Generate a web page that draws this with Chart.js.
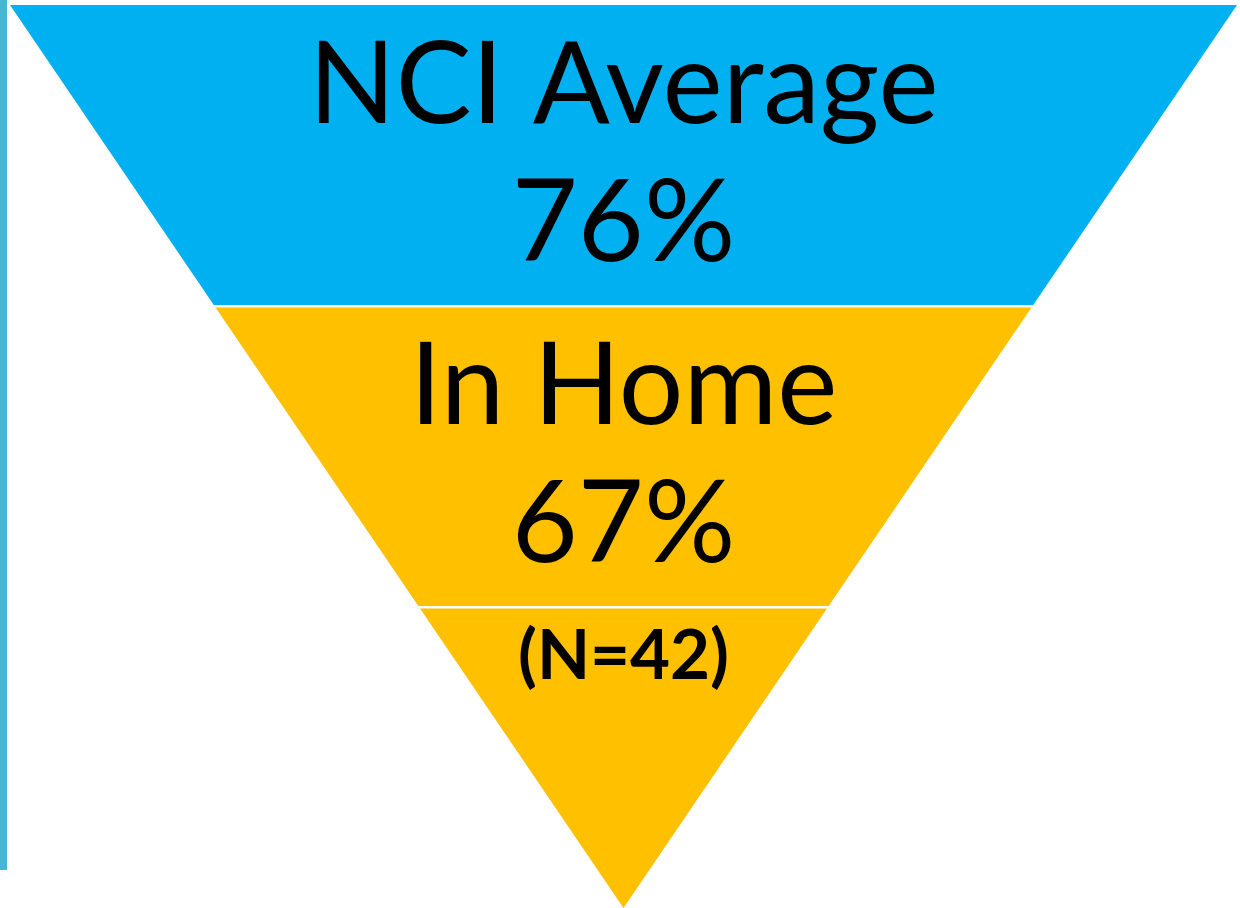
<!DOCTYPE html>
<html>
<head>
<meta charset="utf-8">
<script src="https://cdn.jsdelivr.net/npm/chart.js@4.4.1/dist/chart.umd.min.js"></script>
<style>
    html, body { margin: 0; padding: 0; background: #ffffff; }
    #wrap { position: relative; width: 1240px; height: 908px; overflow: hidden; }
    #sideBar { position: absolute; left: 0; top: 0; width: 7px; height: 870px; background: #41b9d5; }
    #chart-funnel { position: absolute; left: 0; top: 0; }
</style>
</head>
<body>
<div id="wrap">
    <div id="sideBar"></div>
    <canvas id="chart-funnel" width="1240" height="908"></canvas>
</div>
<script>
// funnel stages, top to bottom
const stages = ['NCI Average', 'In Home', ''];
const percents = [76, 67, null];
const sampleN = 42;
const stageColors = ['#00b0f0', '#ffc000', '#ffc000'];

const levels = stages.length;

// each stage is one band of the inverted triangle; width shrinks linearly to the tip
function bandPoints(i) {
    const top = levels - i;
    const bottom = levels - i - 1;
    return [
        { x: -top / levels, y: top },
        { x: top / levels, y: top },
        { x: bottom / levels, y: bottom },
        { x: -bottom / levels, y: bottom },
        { x: -top / levels, y: top }
    ];
}

const datasets = stages.map(function (name, i) {
    return {
        label: name || ('N=' + sampleN),
        data: bandPoints(i),
        showLine: true,
        fill: 'shape',
        backgroundColor: stageColors[i],
        borderColor: stageColors[i],
        borderWidth: 0,
        pointRadius: 0,
        tension: 0
    };
});

const funnelLabels = {
    id: 'funnelLabels',
    afterDatasetsDraw(chart) {
        const ctx = chart.ctx;
        const yScale = chart.scales.y;
        const cx = (chart.chartArea.left + chart.chartArea.right) / 2;
        ctx.save();
        ctx.fillStyle = '#000000';
        ctx.textAlign = 'center';
        ctx.textBaseline = 'alphabetic';
        stages.forEach(function (name, i) {
            const yTop = yScale.getPixelForValue(levels - i);
            const yBot = yScale.getPixelForValue(levels - i - 1);
            const mid = (yTop + yBot) / 2;
            if (name) {
                ctx.font = '400 114px Lato';
                ctx.fillText(name, cx, mid - 33);
                ctx.fillText(percents[i] + '%', cx, mid + 105);
            } else {
                ctx.font = '700 69px Lato';
                ctx.fillText('(N=' + sampleN + ')', cx, yTop + 72);
            }
        });
        ctx.restore();
    }
};

new Chart(document.getElementById('chart-funnel'), {
    type: 'scatter',
    data: { datasets: datasets },
    options: {
        responsive: false,
        animation: false,
        layout: { padding: { left: 10, right: 3, top: 5, bottom: 0 } },
        plugins: {
            legend: { display: false },
            tooltip: { enabled: false }
        },
        scales: {
            x: { type: 'linear', min: -1, max: 1, display: false },
            y: {
                type: 'linear',
                min: 0,
                max: levels,
                ticks: { display: false, stepSize: 1 },
                border: { display: false },
                grid: {
                    z: 1,
                    drawTicks: false,
                    lineWidth: 2.5,
                    // white separators between the stages only
                    color: function (c) {
                        const v = c.tick && c.tick.value;
                        return (v > 0 && v < levels) ? '#ffffff' : 'rgba(0,0,0,0)';
                    }
                }
            }
        }
    },
    plugins: [funnelLabels]
});
</script>
</body>
</html>
